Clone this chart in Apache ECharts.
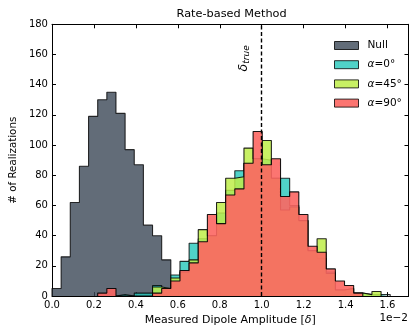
<!DOCTYPE html>
<html><head><meta charset="utf-8">
<script src="https://cdn.jsdelivr.net/npm/echarts@6/dist/echarts.min.js"></script>
<style>html,body{margin:0;padding:0;background:#fff}#c{width:415px;height:331px}</style>
</head><body><div id="c"></div>
<script>
// Histogram definition (bin edges span 0 .. 1.7 in units of 1e-2, 39 equal bins)
const binStart = 0, binEnd = 1.7, nBins = 39;
const trueDelta = 1.0;
const seriesNames = ['Null', 'α=0°', 'α=45°', 'α=90°'];
// counts per bin, bin index 0..38
const countsNull  = [5,26,62,86,119,130,135,121,97,87,47,40,24,0,0,0,0,0,0,0,0,0,0,0,0,0,0,0,0,0,0,0,0,0,0,0,0,0,0];
const countsA0    = [0,0,0,0,0,0,0,1,0,2,2,7,5,14,23,35,38,40,55,70,83,88,91,90,78,78,60,50,30,25,16,4,5,2,1,1,1,0,0];
const countsA45   = [0,0,0,0,0,0,0,0,0,0,0,6,5,12,16,24,44,40,62,78,79,98,91,103,78,57,59,50,30,38,15,4,5,2,1,3,0,0,0];
const countsA90   = [0,0,0,0,0,2,5,0,0,0,0,2,5,10,17,22,36,54,48,67,71,88,109,87,91,66,69,54,33,29,18,10,7,2,0,0,0,0,0];
const xTickLabels = ['0.0','0.2','0.4','0.6','0.8','1.0','1.2','1.4','1.6'];
const yTickLabels = ['0','20','40','60','80','100','120','140','160','180'];

const binW = (binEnd - binStart) / nBins;
const edge = k => binStart + k * binW;
function stepData(counts) {
  let first = counts.findIndex(v => v > 0);
  let last = counts.length - 1;
  while (last > 0 && counts[last] === 0) last--;
  const d = [[edge(first), 0]];
  for (let k = first; k <= last; k++) d.push([edge(k), counts[k]]);
  d.push([edge(last + 1), 0]);
  return d;
}
const FONT = 'DejaVu Sans';
const fills = ['rgba(59,71,86,0.8)', 'rgba(36,199,186,0.8)', 'rgba(190,237,73,0.85)', 'rgba(252,102,98,0.9)'];
const edges = ['rgba(0,0,0,0.8)', 'rgba(0,0,0,0.8)', 'rgba(0,0,0,0.85)', 'rgba(0,0,0,0.9)'];
const allCounts = [countsNull, countsA0, countsA45, countsA90];

const series = allCounts.map((c, i) => ({
  name: seriesNames[i],
  type: 'line',
  step: 'end',
  data: stepData(c),
  showSymbol: false,
  symbol: 'none',
  silent: true,
  z: 2 + i,
  itemStyle: { color: fills[i], borderColor: edges[i], borderWidth: 1 },
  lineStyle: { color: edges[i], width: 1.1 },
  areaStyle: { color: fills[i], opacity: 1 },
  emphasis: { disabled: true }
}));
series[3].markLine = {
  silent: true,
  z: 20,
  symbol: ['none', 'none'],
  lineStyle: { color: '#000', type: [4, 2.5], width: 1.4, opacity: 1 },
  label: {
    show: true,
    position: 'insideEndTop',
    formatter: '{d|δ}{s|true}',
    padding: [0, 10, 0, 0],
    distance: 11,
    rich: {
      d: { fontFamily: FONT, fontSize: 12.5, fontStyle: 'italic', color: '#000', verticalAlign: 'bottom', lineHeight: 14 },
      s: { fontFamily: FONT, fontSize: 9, fontStyle: 'italic', color: '#000', verticalAlign: 'bottom', lineHeight: 12 }
    }
  },
  data: [{ xAxis: trueDelta }]
};

const axisCommonX = {
  type: 'value', min: binStart, max: binEnd, interval: 0.2,
  splitLine: { show: false },
  axisLine: { show: true, onZero: false, lineStyle: { color: '#000', width: 1 } },
  axisTick: { show: true, inside: true, length: 4, lineStyle: { color: '#000' } }
};
const axisCommonY = {
  type: 'value', min: 0, max: 180, interval: 20,
  splitLine: { show: false },
  axisLine: { show: true, onZero: false, lineStyle: { color: '#000', width: 1 } },
  axisTick: { show: true, inside: true, length: 4, lineStyle: { color: '#000' } }
};

const chart = echarts.init(document.getElementById('c'), null, { renderer: 'canvas' });
chart.setOption({
  animation: false,
  backgroundColor: '#fff',
  title: {
    text: 'Rate-based Method', left: 226.6, top: 4, textAlign: 'center',
    textStyle: { fontFamily: FONT, fontSize: 11.3, fontWeight: 'normal', color: '#000' }
  },
  grid: { left: 44.7, right: 6.5, top: 24.3, bottom: 34, containLabel: false },
  legend: {
    left: 329, top: 35, orient: 'vertical', icon: 'rect',
    itemWidth: 24, itemHeight: 8, itemGap: 8.2,
    data: seriesNames,
    itemStyle: { borderColor: 'rgba(0,0,0,0.8)', borderWidth: 1 },
    textStyle: {
      fontFamily: FONT, fontSize: 10.5, color: '#000', padding: [0, 0, 0, 4],
      rich: { a: { fontFamily: FONT, fontSize: 10.5, fontStyle: 'italic', color: '#000' } }
    },
    formatter: n => n.replace('α', '{a|α}'),
    selectedMode: false
  },
  xAxis: [
    Object.assign({}, axisCommonX, {
      position: 'bottom',
      name: 'Measured Dipole Amplitude [{i|δ}]', nameLocation: 'middle', nameGap: 15,
      nameTextStyle: { fontFamily: FONT, fontSize: 11, color: '#000', rich: { i: { fontFamily: FONT, fontSize: 11, fontStyle: 'italic', color: '#000' } } },
      axisLabel: {
        fontFamily: FONT, fontSize: 10, color: '#000', margin: 4, showMaxLabel: false,
        formatter: v => { const i = Math.round(v / 0.2); return Math.abs(v - i * 0.2) < 1e-6 ? xTickLabels[i] : ''; }
      }
    }),
    Object.assign({}, axisCommonX, { position: 'top', axisLabel: { show: false } })
  ],
  yAxis: [
    Object.assign({}, axisCommonY, {
      position: 'left',
      name: '# of Realizations', nameLocation: 'middle', nameGap: 29, nameRotate: 90,
      nameTextStyle: { fontFamily: FONT, fontSize: 10.3, color: '#000' },
      axisLabel: {
        fontFamily: FONT, fontSize: 10, color: '#000', margin: 4,
        formatter: v => yTickLabels[Math.round(v / 20)]
      }
    }),
    Object.assign({}, axisCommonY, { position: 'right', axisLabel: { show: false } })
  ],
  graphic: [{
    type: 'text', right: 7, top: 313,
    style: { text: '1e\u22122', font: '10.5px "DejaVu Sans"', fill: '#000' }
  }],
  series: series
});
</script></body></html>
